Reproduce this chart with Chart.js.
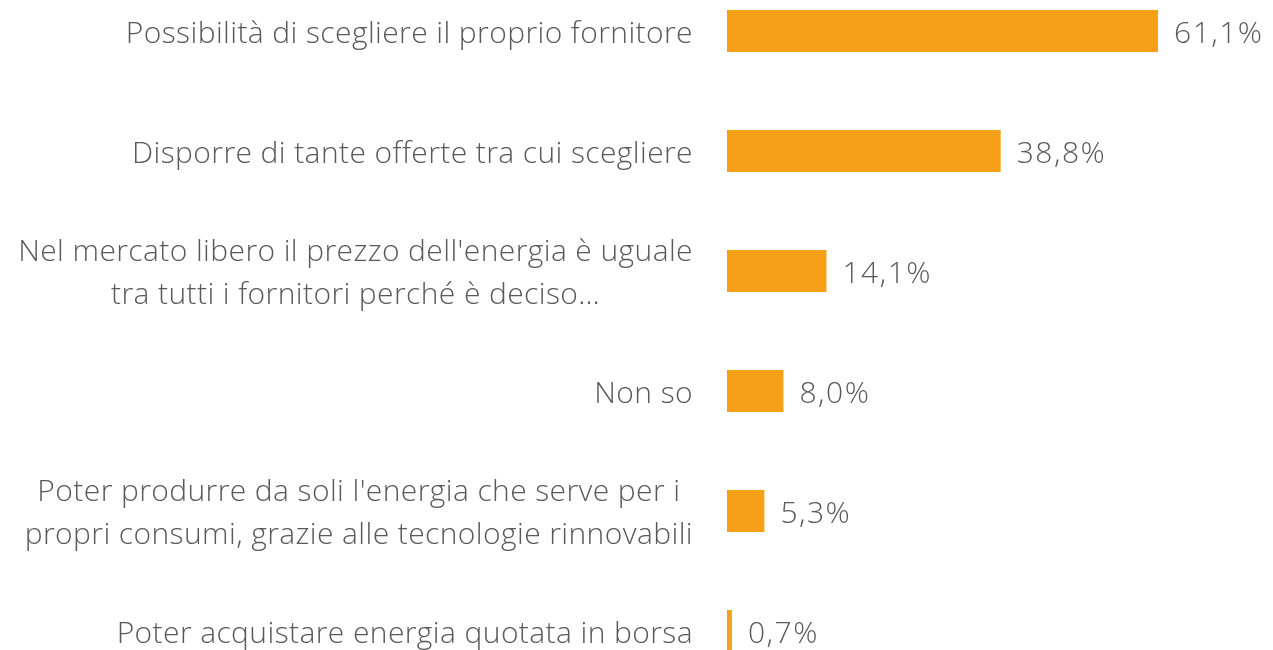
<!DOCTYPE html>
<html>
<head>
<meta charset="utf-8">
<script src="https://cdn.jsdelivr.net/npm/chart.js@4/dist/chart.umd.min.js"></script>
<style>
  html, body { margin: 0; padding: 0; background: #fff; }
  #wrap { width: 1273px; height: 650px; position: relative; }
</style>
</head>
<body>
<div id="wrap"><canvas id="barChart"></canvas></div>
<script>
// categories (multi-line labels as arrays)
const categories = [
  ["Possibilità di scegliere il proprio fornitore"],
  ["Disporre di tante offerte tra cui scegliere"],
  ["Nel mercato libero il prezzo dell'energia è uguale", "tra tutti i fornitori perché è deciso…"],
  ["Non so"],
  ["Poter produrre da soli l'energia che serve per i", "propri consumi, grazie alle tecnologie rinnovabili"],
  ["Poter acquistare energia quotata in borsa"]
];
const values = [61.1, 38.8, 14.1, 8.0, 5.3, 0.7];
const valueLabels = ["61,1%", "38,8%", "14,1%", "8,0%", "5,3%", "0,7%"];

const textColor = "#595959";
const barColor = "#F5A016";
const fontFamily = "'Open Sans', 'Noto Sans', sans-serif";

// draws category labels (right aligned block, centered lines) and value labels
const labelPlugin = {
  id: "labelPlugin",
  afterDatasetsDraw(chart) {
    const ctx = chart.ctx;
    const yScale = chart.scales.y;
    const meta = chart.getDatasetMeta(0);
    ctx.save();
    ctx.fillStyle = textColor;
    ctx.textBaseline = "middle";
    ctx.font = "300 30px " + fontFamily;
    ctx.letterSpacing = "0.4px";
    const lineH = 43;
    categories.forEach(function(lines, i) {
      const y = yScale.getPixelForTick(i) + 3;
      let w = 0;
      lines.forEach(function(l) { w = Math.max(w, ctx.measureText(l).width); });
      const cx = 693 - w / 2;
      ctx.textAlign = "center";
      lines.forEach(function(l, j) {
        const ly = y + (j - (lines.length - 1) / 2) * lineH;
        ctx.fillText(l, cx, ly);
      });
    });
    ctx.textAlign = "left";
    ctx.letterSpacing = "1.5px";
    meta.data.forEach(function(bar, i) {
      ctx.fillText(valueLabels[i], bar.x + 16, bar.y + 3);
    });
    ctx.restore();
  }
};

const barData = {
  labels: categories,
  datasets: [{
    data: values,
    backgroundColor: barColor,
    borderWidth: 0,
    categoryPercentage: 1,
    barPercentage: 0.35,
    clip: false
  }]
};

const barOptions = {
  indexAxis: "y",
  responsive: true,
  maintainAspectRatio: false,
  animation: false,
  layout: { padding: { top: 31, bottom: 19, left: 0, right: 0 } },
  scales: {
    x: {
      display: false,
      min: 0,
      max: 77.4
    },
    y: {
      offset: false,
      grid: { display: false },
      border: { display: false },
      ticks: { display: false },
      afterFit: function(scale) { scale.width = 727; }
    }
  },
  plugins: {
    legend: { display: false },
    tooltip: { enabled: false }
  }
};

new Chart(document.getElementById("barChart"), {
  type: "bar",
  data: barData,
  options: barOptions,
  plugins: [labelPlugin]
});
</script>
</body>
</html>
